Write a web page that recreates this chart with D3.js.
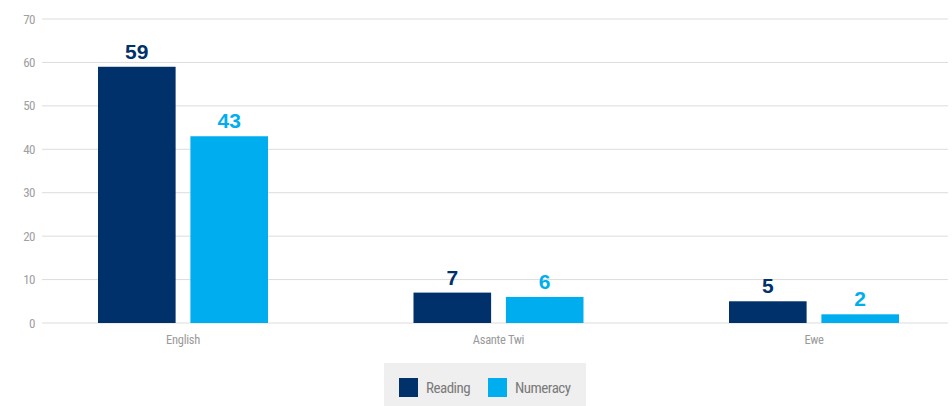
<!DOCTYPE html>
<html><head><meta charset="utf-8">
<script src="https://cdn.jsdelivr.net/npm/d3@7"></script>
<style>
body{margin:0;background:#fff;}
text{font-family:"Roboto Condensed","Liberation Sans Narrow","Roboto",sans-serif;}
</style></head>
<body><svg id="c" width="952" height="406"></svg>
<script>
const categories = ["English", "Asante Twi", "Ewe"];
const seriesNames = ["Reading", "Numeracy"];
const reading = [59, 7, 5];
const numeracy = [43, 6, 2];
const yTicks = [0, 10, 20, 30, 40, 50, 60, 70];
const colors = ["#00316a", "#00aeef"];

const svg = d3.select("#c");
const mLeft = 42, mRight = 948, mTop = 19, mBottom = 323;
const y = d3.scaleLinear().domain([0, 70]).range([mBottom, mTop]);
const x = d3.scalePoint().domain(categories).range([183, 814]);
const inner = d3.scaleBand().domain(seriesNames).range([-85, 85]).paddingInner(0.16);

// grid
svg.append("g").selectAll("line").data(yTicks).join("line")
  .attr("x1", mLeft).attr("x2", mRight)
  .attr("y1", d => y(d)).attr("y2", d => y(d))
  .attr("stroke", "#dcdcdc").attr("stroke-width", 1);
svg.append("g").selectAll("text").data(yTicks).join("text")
  .attr("x", 35).attr("y", d => y(d) + 4.5)
  .attr("text-anchor", "end").attr("font-size", 13).attr("fill", "#a0a0a0")
  .attr("letter-spacing", -0.5)
  .text(d => d);

const data = [reading, numeracy];
seriesNames.forEach((s, i) => {
  const g = svg.append("g");
  g.selectAll("rect").data(categories).join("rect")
    .attr("x", c => x(c) + inner(s))
    .attr("width", inner.bandwidth())
    .attr("y", (c, j) => y(data[i][j]))
    .attr("height", (c, j) => y(0) - y(data[i][j]))
    .attr("fill", colors[i]);
  g.selectAll("text").data(categories).join("text")
    .attr("x", c => x(c) + inner(s) + inner.bandwidth() / 2)
    .attr("y", (c, j) => y(data[i][j]) - 8)
    .attr("text-anchor", "middle")
    .style("font-family", "'Liberation Sans', Arial, sans-serif")
    .attr("font-weight", "bold").attr("font-size", 21)
    .attr("fill", colors[i])
    .text((c, j) => data[i][j]);
});

svg.append("g").selectAll("text").data(categories).join("text")
  .attr("x", c => x(c)).attr("y", 344)
  .attr("text-anchor", "middle").attr("font-size", 12.5).attr("fill", "#9a9a9a")
  .attr("letter-spacing", -0.3)
  .text(c => c);

// legend
const lg = svg.append("g");
lg.append("rect").attr("x", 384).attr("y", 363).attr("width", 202).attr("height", 43).attr("fill", "#efefef");
const lx = [399, 488];
seriesNames.forEach((s, i) => {
  lg.append("rect").attr("x", lx[i]).attr("y", 378).attr("width", 19).attr("height", 19).attr("fill", colors[i]);
  lg.append("text").attr("x", lx[i] + 27).attr("y", 393).attr("font-size", 15).attr("fill", "#7a7a7a")
    .attr("letter-spacing", -0.5).text(s);
});
</script></body></html>
